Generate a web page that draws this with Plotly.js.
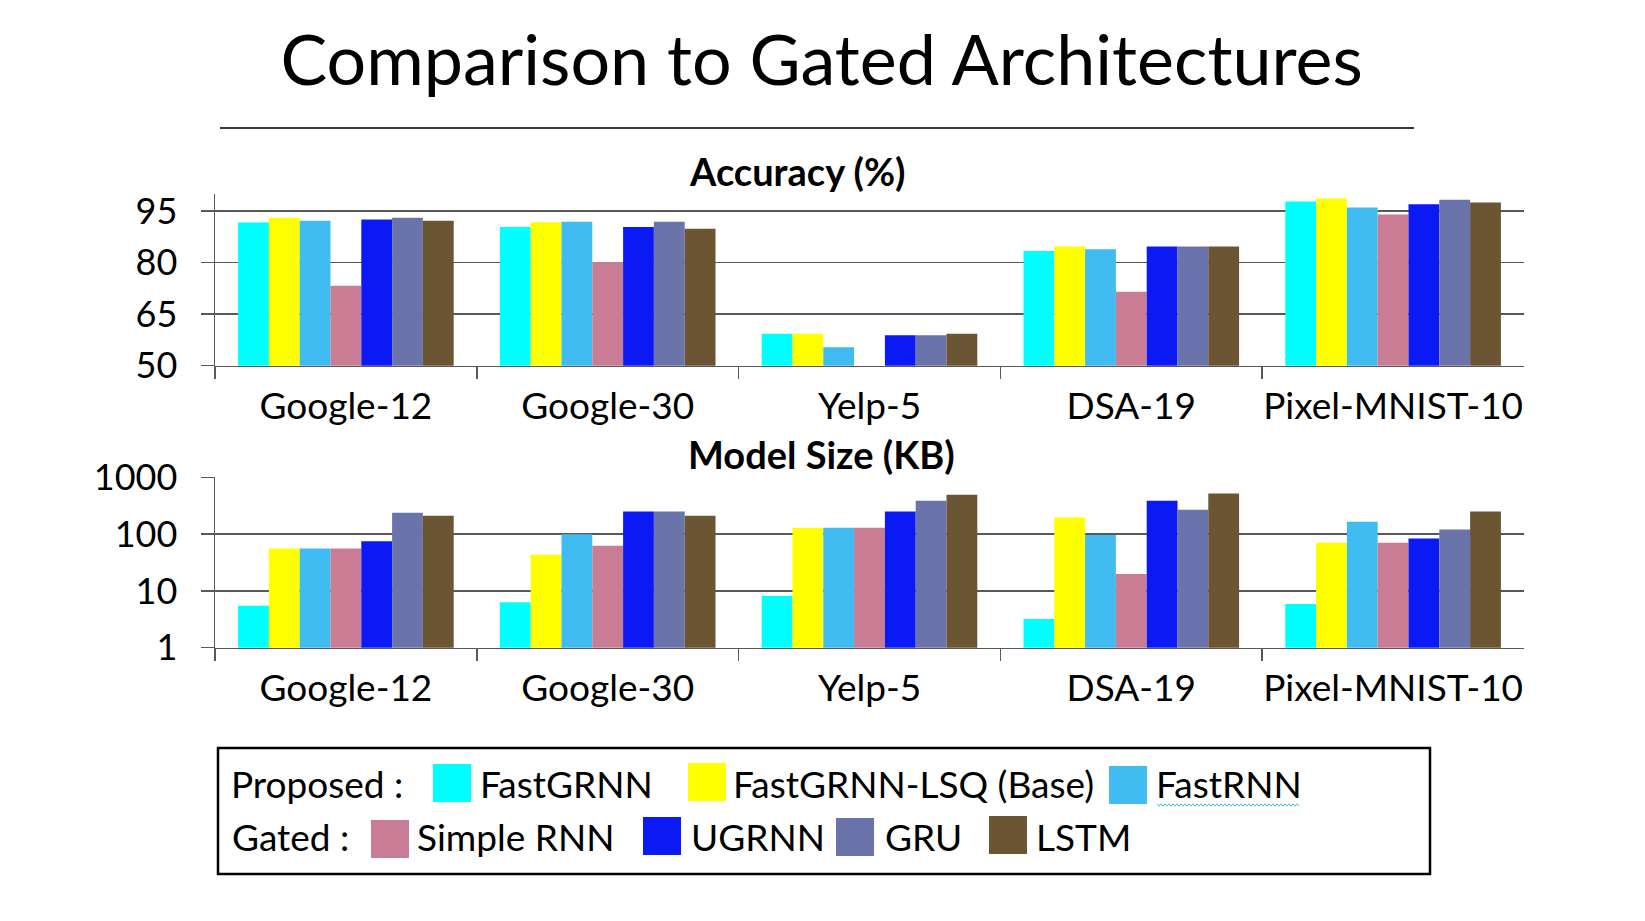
<!DOCTYPE html>
<html>
<head>
<meta charset="utf-8">
<script src="https://cdn.plot.ly/plotly-3.0.1.min.js"></script>
<style>html,body{margin:0;padding:0;background:#fff;}#chart{width:1645px;height:921px;}</style>
</head>
<body>
<div id="chart"></div>
<script>
// ---- data ----
const datasets = ["Google-12", "Google-30", "Yelp-5", "DSA-19", "Pixel-MNIST-10"];
const seriesNames = ["FastGRNN", "FastGRNN-LSQ (Base)", "FastRNN", "Simple RNN", "UGRNN", "GRU", "LSTM"];
const seriesColors = ["#00FFFF", "#FFFF00", "#41BCF2", "#C97D94", "#0B1AF5", "#6B74AA", "#6B5533"];

// Accuracy (%)
const accFastGRNN  = [91.7, 90.4, 59.3, 83.4, 97.8];
const accFastGRNNLSQ = [93.1, 91.8, 59.3, 84.7, 98.7];
const accFastRNN   = [92.2, 91.9, 55.4, 83.9, 96.1];
const accSimpleRNN = [73.3, 80.2, 47.6, 71.5, 94.0];
const accUGRNN     = [92.6, 90.4, 58.9, 84.7, 97.0];
const accGRU       = [93.1, 91.9, 58.9, 84.7, 98.3];
const accLSTM      = [92.2, 89.9, 59.3, 84.7, 97.5];

// Model size (KB)
const sizeFastGRNN  = [5.5, 6.3, 8.1, 3.2, 5.9];
const sizeFastGRNNLSQ = [55.5, 43.5, 130, 196, 70.6];
const sizeFastRNN   = [55.5, 99, 130, 96, 165];
const sizeSimpleRNN = [55.5, 62.5, 130, 19.9, 70.6];
const sizeUGRNN     = [75, 250, 250, 385, 84];
const sizeGRU       = [237, 250, 385, 268, 121];
const sizeLSTM      = [210, 210, 491, 518, 250];

const accTicks = [50, 65, 80, 95];
const sizeTicks = [1, 10, 100, 1000];
const sizeTickText = ["1", "10", "100", "1000"];

const accSeries = [accFastGRNN, accFastGRNNLSQ, accFastRNN, accSimpleRNN, accUGRNN, accGRU, accLSTM];
const sizeSeries = [sizeFastGRNN, sizeFastGRNNLSQ, sizeFastRNN, sizeSimpleRNN, sizeUGRNN, sizeGRU, sizeLSTM];

// ---- layout helpers (pixel -> paper) ----
const W = 1645, H = 921;
const X = px => px / W;
const Y = py => 1 - py / H;
const FONT = "Lato, 'Open Sans', sans-serif";
const AX = "#595959";

const traces = [];
seriesNames.forEach((name, i) => {
  traces.push({type: "bar", name: name, x: datasets, y: accSeries[i], xaxis: "x", yaxis: "y",
    marker: {color: seriesColors[i], line: {width: 0}}, showlegend: false});
});
seriesNames.forEach((name, i) => {
  traces.push({type: "bar", name: name, x: datasets, y: sizeSeries[i], xaxis: "x2", yaxis: "y2",
    marker: {color: seriesColors[i], line: {width: 0}}, showlegend: false});
});

const xCommon = {type: "category", showline: true, linecolor: AX, linewidth: 1.5,
  ticks: "outside", tickson: "boundaries", ticklen: 12, tickcolor: AX, tickwidth: 1.5,
  showgrid: false, zeroline: false, tickfont: {family: FONT, size: 37, color: "#000"},
  tickangle: 0, ticklabelstandoff: 7, fixedrange: true};
const yCommon = {showline: true, linecolor: AX, linewidth: 1.5, showgrid: true, gridcolor: AX, gridwidth: 1.5,
  ticks: "outside", ticklen: 13, tickcolor: AX, tickwidth: 1.5, zeroline: false,
  tickfont: {family: FONT, size: 36, color: "#000"}, ticklabelstandoff: 16, fixedrange: true};

const shapes = [];
const annotations = [];
// rule under title
shapes.push({type: "line", xref: "paper", yref: "paper", x0: X(220), x1: X(1414), y0: Y(128), y1: Y(128),
  line: {color: "#3a3a3a", width: 2}});
// subplot titles
annotations.push({text: "<b>Accuracy (%)</b>", xref: "paper", yref: "paper", x: X(797), y: Y(171),
  xanchor: "center", yanchor: "middle", showarrow: false, font: {family: FONT, size: 38, color: "#000"}});
annotations.push({text: "<b>Model Size (KB)</b>", xref: "paper", yref: "paper", x: X(821), y: Y(454),
  xanchor: "center", yanchor: "middle", showarrow: false, font: {family: FONT, size: 38, color: "#000"}});

// legend box
shapes.push({type: "rect", xref: "paper", yref: "paper", x0: X(218), x1: X(1430), y0: Y(748), y1: Y(874),
  line: {color: "#000", width: 2.5}, fillcolor: "rgba(0,0,0,0)"});
const LFS = 37;
function legText(t, x, yMid) {
  annotations.push({text: t, xref: "paper", yref: "paper", x: X(x), y: Y(yMid), xanchor: "left", yanchor: "middle",
    showarrow: false, font: {family: FONT, size: LFS, color: "#000"}});
}
function swatch(ci, x0, y0) {
  shapes.push({type: "rect", xref: "paper", yref: "paper", x0: X(x0), x1: X(x0 + 38), y0: Y(y0), y1: Y(y0 + 38),
    line: {width: 0}, fillcolor: seriesColors[ci]});
}
const row1 = 783, row2 = 836;
legText("Proposed :", 229, row1);
swatch(0, 433, 764); legText(seriesNames[0], 478, row1);
swatch(1, 688, 763); legText(seriesNames[1], 731, row1);
swatch(2, 1109, 766); legText(seriesNames[2], 1154, row1);
legText("Gated :", 230, row2);
swatch(3, 371, 820); legText(seriesNames[3], 415, row2);
swatch(4, 643, 817); legText(seriesNames[4], 689, row2);
swatch(5, 836, 818); legText(seriesNames[5], 883, row2);
swatch(6, 989, 816); legText(seriesNames[6], 1034, row2);
// spell-check squiggle under FastRNN
(function () {
  let p = "";
  for (let k = 0, xx = 1157; xx <= 1300; k++, xx += 2) {
    const yy = 805 + (k % 2 === 0 ? -1.2 : 1.2);
    p += (k === 0 ? "M" : "L") + X(xx).toFixed(5) + "," + Y(yy).toFixed(5) + " ";
  }
  shapes.push({type: "path", xref: "paper", yref: "paper", path: p, line: {color: "#3cc8d8", width: 1}});
})();

const layout = {
  width: W, height: H,
  margin: {l: 0, r: 0, t: 0, b: 0},
  paper_bgcolor: "#fff", plot_bgcolor: "#fff",
  barmode: "group", bargap: 0.1765, bargroupgap: 0,
  title: {text: "Comparison to Gated Architectures", x: 0.4995, xanchor: "center", y: Y(60), yanchor: "middle",
    font: {family: FONT, size: 70, color: "#000"}},
  xaxis: Object.assign({}, xCommon, {domain: [X(215), X(1524)], anchor: "y"}),
  yaxis: Object.assign({}, yCommon, {domain: [Y(365.7), Y(194)], anchor: "x", range: [50, 100],
    tickmode: "array", tickvals: accTicks}),
  xaxis2: Object.assign({}, xCommon, {domain: [X(215), X(1524)], anchor: "y2"}),
  yaxis2: Object.assign({}, yCommon, {domain: [Y(647.7), Y(477.3)], anchor: "x2", type: "log", range: [0, 3],
    tickmode: "array", tickvals: sizeTicks, ticktext: sizeTickText}),
  shapes: shapes,
  annotations: annotations,
  font: {family: FONT}
};

Plotly.newPlot("chart", traces, layout, {displayModeBar: false, staticPlot: true});
</script>
</body>
</html>
